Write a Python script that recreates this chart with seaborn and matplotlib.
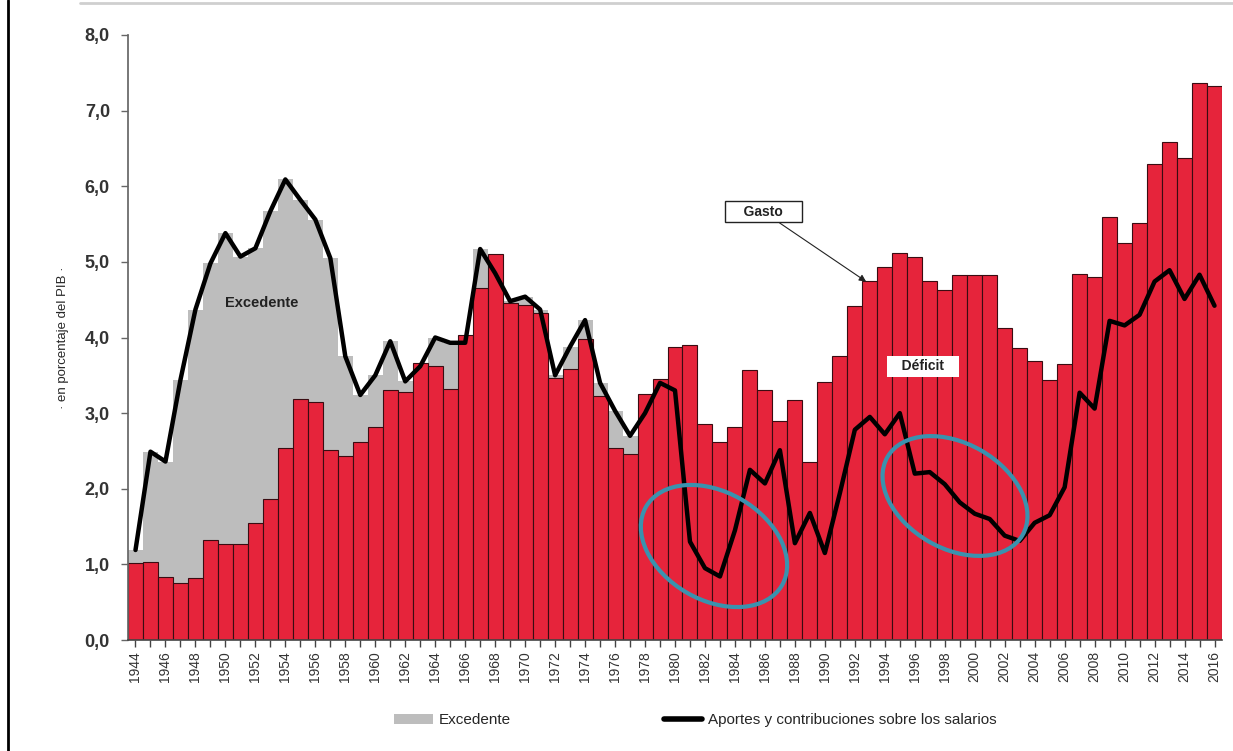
import numpy as np
import pandas as pd
import seaborn as sns
import matplotlib.pyplot as plt
from matplotlib.patches import Ellipse, Patch
from matplotlib.lines import Line2D
from matplotlib.ticker import FuncFormatter, MultipleLocator
from matplotlib.transforms import IdentityTransform

# datos (en % del PIB)
anios = list(range(1944, 2017))

gasto = [1.02, 1.03, 0.83, 0.75, 0.82, 1.32, 1.27, 1.27, 1.55, 1.87,
         2.54, 3.19, 3.15, 2.51, 2.43, 2.62, 2.82, 3.31, 3.28, 3.66,
         3.62, 3.32, 4.03, 4.65, 5.11, 4.46, 4.43, 4.33, 3.46, 3.58,
         3.98, 3.23, 2.54, 2.46, 3.25, 3.45, 3.88, 3.90, 2.86, 2.62,
         2.81, 3.57, 3.30, 2.90, 3.17, 2.35, 3.41, 3.76, 4.42, 4.75,
         4.93, 5.12, 5.06, 4.75, 4.63, 4.83, 4.82, 4.83, 4.13, 3.86,
         3.69, 3.44, 3.65, 4.84, 4.80, 5.60, 5.25, 5.52, 6.30, 6.58,
         6.37, 7.36, 7.32]

aportes = [1.19, 2.49, 2.36, 3.44, 4.37, 4.98, 5.38, 5.07, 5.18, 5.67,
           6.09, 5.82, 5.56, 5.05, 3.75, 3.24, 3.50, 3.95, 3.42, 3.62,
           4.00, 3.93, 3.93, 5.17, 4.85, 4.48, 4.54, 4.37, 3.50, 3.88,
           4.23, 3.40, 3.03, 2.70, 3.00, 3.40, 3.30, 1.30, 0.95, 0.84,
           1.45, 2.25, 2.07, 2.51, 1.28, 1.68, 1.15, 1.94, 2.78, 2.95,
           2.72, 3.00, 2.20, 2.22, 2.06, 1.82, 1.67, 1.60, 1.38, 1.31,
           1.55, 1.65, 2.02, 3.27, 3.06, 4.22, 4.16, 4.30, 4.74, 4.89,
           4.51, 4.83, 4.42]

ROJO = "#E6243B"
GRIS = "#BDBDBD"
AZUL = "#3A92AE"

sns.set_theme(style="white")
plt.rcParams["font.family"] = ["Liberation Sans", "DejaVu Sans"]

df = pd.DataFrame({"anio": anios, "gasto": gasto, "aportes": aportes})

fig = plt.figure(figsize=(12.33, 7.51), dpi=100)
ax = fig.add_axes([128 / 1233, 1 - 640 / 751, (1222 - 128) / 1233, (640 - 35) / 751])

# excedente: barras grises hasta los aportes, tapadas por el gasto
sns.barplot(data=df, x="anio", y="aportes", native_scale=True, width=1,
            color=GRIS, saturation=1, linewidth=0, errorbar=None, ax=ax)
sns.barplot(data=df, x="anio", y="gasto", native_scale=True, width=1,
            color=ROJO, saturation=1, edgecolor="#3a0c12", linewidth=0.8,
            errorbar=None, ax=ax)
sns.lineplot(data=df, x="anio", y="aportes", color="black", lw=3.2, ax=ax)

ax.set_xlim(1943.5, 2016.5)
ax.set_ylim(0, 8)
ax.set_xticks(range(1944, 2017, 2))
ax.xaxis.set_minor_locator(MultipleLocator(1))
ax.set_yticks(np.arange(0, 8.1, 1))
ax.yaxis.set_major_formatter(FuncFormatter(lambda v, p: f"{v:.1f}".replace(".", ",")))
ax.set_xlabel("")
ax.set_ylabel("· en porcentaje del PIB ·", fontsize=9.5, labelpad=11)

for lab in ax.get_xticklabels():
    lab.set_rotation(90)
ax.tick_params(axis="x", which="both", bottom=True, length=5, width=1,
               color="#444", labelsize=10, labelcolor="#333", pad=3)
ax.tick_params(axis="y", left=True, length=5, width=1, color="#666",
               labelsize=13, labelcolor="#333", pad=8)
for lab in ax.get_yticklabels():
    lab.set_fontweight("bold")

sns.despine(ax=ax, top=True, right=True)
ax.spines["left"].set_color("#666")
ax.spines["bottom"].set_color("#444")
ax.spines["bottom"].set_linewidth(1.2)

# textos
ax.text(1952.45, 4.46, "Excedente", ha="center", va="center",
        fontsize=10.5, fontweight="bold", color="#222")
ax.annotate("    Gasto    ", xy=(1992.75, 4.74), xytext=(1985.9, 5.66),
            ha="center", va="center", fontsize=10, fontweight="bold", color="#222",
            bbox=dict(boxstyle="square,pad=0.25", fc="white", ec="#222", lw=1),
            arrowprops=dict(arrowstyle="-|>", color="#222", lw=0.8,
                            mutation_scale=10, shrinkA=0, shrinkB=0))
ax.text(1996.55, 3.62, "   Déficit   ", ha="center", va="center",
        fontsize=10, fontweight="bold", color="#222",
        bbox=dict(boxstyle="square,pad=0.25", fc="white", ec="none"))

# elipses azules
for cx, cy, w, h in [(714, 751 - 546, 157, 108), (955, 751 - 496, 156, 105)]:
    fig.add_artist(Ellipse((cx, cy), w, h, angle=-30, fill=False,
                           edgecolor=AZUL, lw=3, transform=IdentityTransform()))

# marco
fig.add_artist(Line2D([80 / 1233, 1], [1 - 3 / 751] * 2, color="#cfcfcf", lw=2))
fig.add_artist(Line2D([8 / 1233] * 2, [0, 1], color="black", lw=2))

handles = [Patch(facecolor=GRIS, edgecolor="none"),
           Line2D([0], [0], color="black", lw=4)]
labels = ["Excedente", "Aportes y contribuciones sobre los salarios"]
fig.legend(handles, labels, loc="center", bbox_to_anchor=(0.564, 0.041), ncol=2,
           frameon=False, columnspacing=10, handlelength=2.5, handletextpad=0.4,
           prop={"size": 11})

fig.savefig("out.png", dpi=100)
